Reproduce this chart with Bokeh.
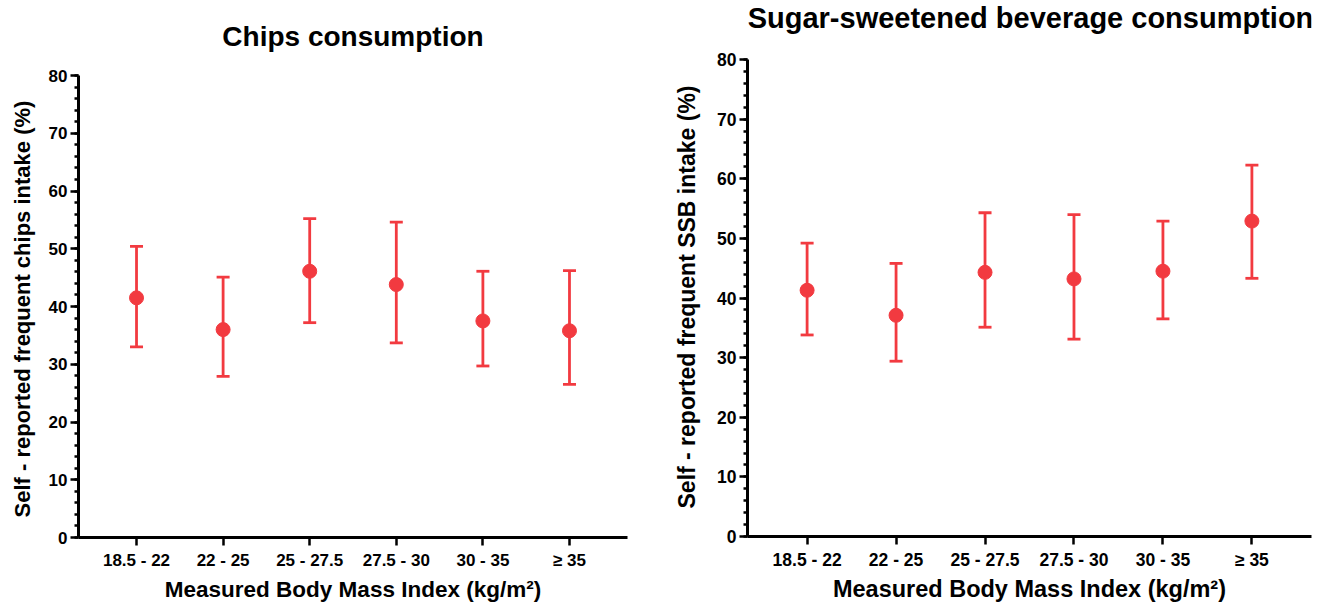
from bokeh.plotting import figure
from bokeh.layouts import row, column
from bokeh.models import (ColumnDataSource, Range1d, Whisker, TeeHead,
                          FixedTicker, SingleIntervalTicker, Label, Title)
from bokeh.embed import file_html
from bokeh.resources import INLINE

categories = ["18.5 - 22", "22 - 25", "25 - 27.5", "27.5 - 30", "30 - 35", "\u2265 35"]

chips_mean = [41.5, 36.0, 46.1, 43.8, 37.5, 35.8]
chips_upper = [50.4, 45.1, 55.2, 54.6, 46.1, 46.2]
chips_lower = [33.0, 27.9, 37.2, 33.7, 29.7, 26.5]

ssb_mean = [41.3, 37.1, 44.3, 43.2, 44.5, 52.9]
ssb_upper = [49.2, 45.8, 54.3, 54.0, 52.9, 62.3]
ssb_lower = [33.8, 29.4, 35.1, 33.1, 36.5, 43.3]

Y_MIN, Y_MAX, Y_STEP = 0, 80, 10
RED = "#F23A40"
TICK_FONT = "Liberation Sans"
LABEL_FONT = "Liberation Sans"


def make_panel(title, ylabel, mean, lower, upper, width, height,
               b_left, b_right, axis_top, b_bottom, sizes):
    (title_size, ylab_size, xlab_size, tick_size, ylab_standoff,
     ylab_offset, title_center, tick_standoff, xlab_standoff) = sizes
    x = list(range(len(categories)))
    src = ColumnDataSource(dict(x=x, mean=mean, lower=lower, upper=upper))
    frame_w = width - b_left - b_right
    frame_h = height - b_bottom
    axis_h = frame_h - axis_top
    # plotting frame reaches the top of the figure; the y axis stops at Y_MAX
    y_end = Y_MIN + (Y_MAX - Y_MIN) * frame_h / axis_h
    p = figure(width=width, height=height, output_backend="svg",
               toolbar_location=None, tools="",
               x_range=Range1d(-0.67, len(categories) - 1 + 0.67),
               y_range=Range1d(Y_MIN, y_end),
               min_border_left=b_left, min_border_right=b_right,
               min_border_top=0, min_border_bottom=b_bottom)

    p.outline_line_color = None
    p.grid.visible = False
    p.background_fill_color = "white"
    p.border_fill_color = "white"

    # chart title, inside the (blank) upper part of the frame
    p.add_layout(Label(x=frame_w / 2, y=frame_h - title_center,
                       x_units="screen", y_units="screen", text=title,
                       text_align="center", text_baseline="middle",
                       text_font=LABEL_FONT, text_font_style="bold",
                       text_font_size=title_size, text_color="black"))

    # y axis title, centred on the 0-80 axis line
    p.add_layout(Title(text=ylabel, align="left", vertical_align="top",
                       offset=ylab_offset, standoff=ylab_standoff,
                       text_font=LABEL_FONT, text_font_style="bold",
                       text_font_size=ylab_size, text_color="black"),
                 "left")

    w = Whisker(source=src, base="x", upper="upper", lower="lower",
                line_color=RED, line_width=2.8,
                upper_head=TeeHead(size=13, line_color=RED, line_width=2.8),
                lower_head=TeeHead(size=13, line_color=RED, line_width=2.8))
    p.add_layout(w)
    p.scatter("x", "mean", source=src, size=14, fill_color=RED,
              line_color=RED)

    # x axis
    xa = p.xaxis[0]
    xa.ticker = FixedTicker(ticks=x)
    xa.major_label_overrides = {i: c for i, c in enumerate(categories)}
    xa.axis_line_width = 3
    xa.axis_line_color = "black"
    xa.major_tick_line_width = 2.5
    xa.major_tick_line_color = "black"
    xa.major_tick_in = 0
    xa.major_tick_out = 8
    xa.minor_tick_line_color = None
    xa.major_label_text_font = TICK_FONT
    xa.major_label_text_font_style = "bold"
    xa.major_label_text_font_size = tick_size
    xa.major_label_text_color = "black"
    xa.major_label_standoff = tick_standoff
    xa.axis_label = "Measured Body Mass Index (kg/m\u00b2)"
    xa.axis_label_text_font = LABEL_FONT
    xa.axis_label_text_font_style = "bold"
    xa.axis_label_text_font_size = xlab_size
    xa.axis_label_text_color = "black"
    xa.axis_label_standoff = xlab_standoff

    # y axis
    ya = p.yaxis[0]
    ya.bounds = (Y_MIN, Y_MAX)
    ya.ticker = SingleIntervalTicker(interval=Y_STEP, num_minor_ticks=5)
    ya.axis_line_width = 3
    ya.axis_line_color = "black"
    ya.major_tick_line_width = 2.5
    ya.major_tick_line_color = "black"
    ya.major_tick_in = 0
    ya.major_tick_out = 8
    ya.minor_tick_line_width = 2.5
    ya.minor_tick_line_color = "black"
    ya.minor_tick_in = 0
    ya.minor_tick_out = 4
    ya.major_label_text_font = TICK_FONT
    ya.major_label_text_font_style = "bold"
    ya.major_label_text_font_size = tick_size
    ya.major_label_text_color = "black"
    ya.major_label_standoff = 3
    return p


p1 = make_panel("Chips consumption",
                "Self - reported frequent chips intake (%)",
                chips_mean, chips_lower, chips_upper,
                660, 605, 78, 33, 75, 68,
                ("28px", "22px", "22.5px", "17px", 17, 20, 35.5, 5, 4))
p2 = make_panel("Sugar-sweetened beverage consumption",
                "Self - reported frequent SSB intake (%)",
                ssb_mean, ssb_lower, ssb_upper,
                661, 605, 85, 10, 59, 69,
                ("29px", "23px", "23.5px", "17.5px", 26, 28, 17, 5, 3))

layout = row(column(p1), column(p2))
open("out.html", "w").write(file_html(layout, INLINE))
